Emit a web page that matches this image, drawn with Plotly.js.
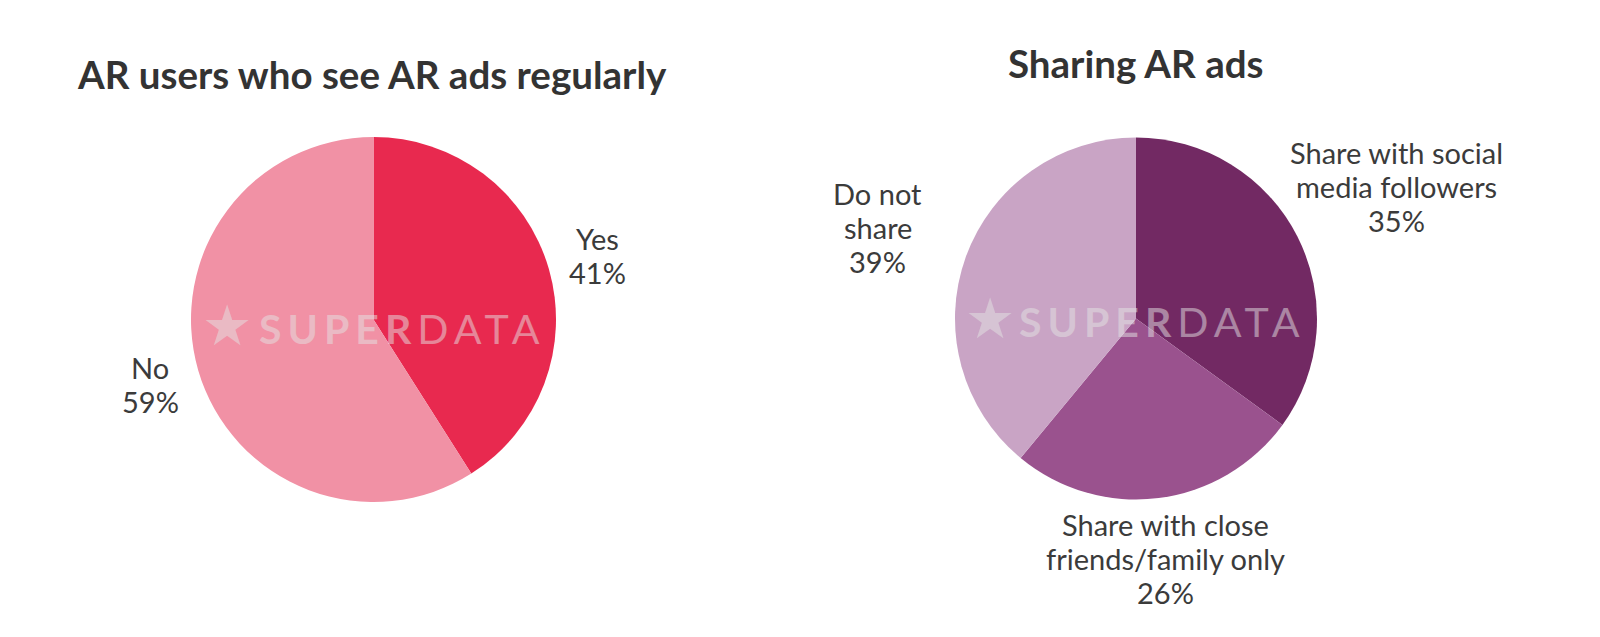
<!DOCTYPE html>
<html>
<head>
<meta charset="utf-8">
<script src="https://cdn.plot.ly/plotly-3.0.1.min.js"></script>
<style>html,body{margin:0;padding:0;background:#fff;}#chart{width:1600px;height:637px;}</style>
</head>
<body>
<div id="chart"></div>
<script>
// Data
const seeTitle = "AR users who see AR ads regularly";
const seeLabels = ["Yes", "No"];
const seeValues = [41, 59];
const seeColors = ["#e8294f", "#f191a5"];

const shareTitle = "Sharing AR ads";
const shareLabels = ["Share with social<br>media followers", "Share with close<br>friends/family only", "Do not<br>share"];
const shareValues = [35, 26, 39];
const shareColors = ["#722963", "#9a528e", "#c9a4c5"];

// label placement (paper px, centre of label block) per slice
const seeLabelPos = [[597, 255], [150, 384]];
const shareLabelPos = [[1396, 186], [1165, 558], [878, 227]];

const W = 1600, H = 637;
const px = (x) => x / W;
const py = (y) => 1 - y / H;

const textColor = "#3b3b3b";
const font = "Lato, 'Open Sans', sans-serif";
const labelSize = 29;
const lineGap = 34;

const traces = [
  {
    type: "pie", labels: seeLabels, values: seeValues,
    marker: {colors: seeColors, line: {width: 0}},
    sort: false, direction: "clockwise", rotation: 0,
    textinfo: "none", hoverinfo: "label+percent",
    domain: {x: [px(191), px(556)], y: [py(502), py(137)]},
    showlegend: false
  },
  {
    type: "pie", labels: shareLabels, values: shareValues,
    marker: {colors: shareColors, line: {width: 0}},
    sort: false, direction: "clockwise", rotation: 0,
    textinfo: "none", hoverinfo: "label+percent",
    domain: {x: [px(955), px(1317)], y: [py(500), py(137)]},
    showlegend: false
  }
];

const annotations = [];
function pct(values, i) {
  const tot = values.reduce((a, b) => a + b, 0);
  return Math.round(values[i] / tot * 100) + "%";
}
function addLabel(label, value, pos) {
  const lines = label.split("<br>").concat([value]);
  const n = lines.length;
  lines.forEach((ln, k) => {
    const y = pos[1] + (k - (n - 1) / 2) * lineGap;
    annotations.push({x: px(pos[0]), y: py(y), xref: "paper", yref: "paper",
      text: ln, showarrow: false, xanchor: "center", yanchor: "middle", align: "center",
      font: {family: font, size: labelSize, color: textColor}});
  });
}
seeLabels.forEach((l, i) => addLabel(l, pct(seeValues, i), seeLabelPos[i]));
shareLabels.forEach((l, i) => addLabel(l, pct(shareValues, i), shareLabelPos[i]));

// titles
annotations.push({x: px(372), y: py(74), xref: "paper", yref: "paper", text: "<b>" + seeTitle + "</b>",
  showarrow: false, xanchor: "center", yanchor: "middle", font: {family: font, size: 38.5, color: "#333333"}});
annotations.push({x: px(1136), y: py(63), xref: "paper", yref: "paper", text: "<b>" + shareTitle + "</b>",
  showarrow: false, xanchor: "center", yanchor: "middle", font: {family: font, size: 38.5, color: "#333333"}});

// watermarks
const wmColor = "rgba(228,228,228,0.5)";
const wmText = "<span style='letter-spacing:6px'><b>SUPER</b>DATA</span>";
[[227, 325, 257, 328], [990, 319, 1017, 321]].forEach(p => {
  annotations.push({x: px(p[0]), y: py(p[1]), xref: "paper", yref: "paper", text: "★",
    showarrow: false, xanchor: "center", yanchor: "middle",
    font: {family: "DejaVu Sans", size: 56, color: wmColor}});
  annotations.push({x: px(p[2]), y: py(p[3]), xref: "paper", yref: "paper", text: wmText,
    showarrow: false, xanchor: "left", yanchor: "middle",
    font: {family: font, size: 41, color: wmColor}});
});

const layout = {
  width: W, height: H,
  margin: {l: 0, r: 0, t: 0, b: 0},
  paper_bgcolor: "#ffffff",
  annotations: annotations,
  showlegend: false
};
Plotly.newPlot("chart", traces, layout, {displayModeBar: false, staticPlot: true});
</script>
</body>
</html>
